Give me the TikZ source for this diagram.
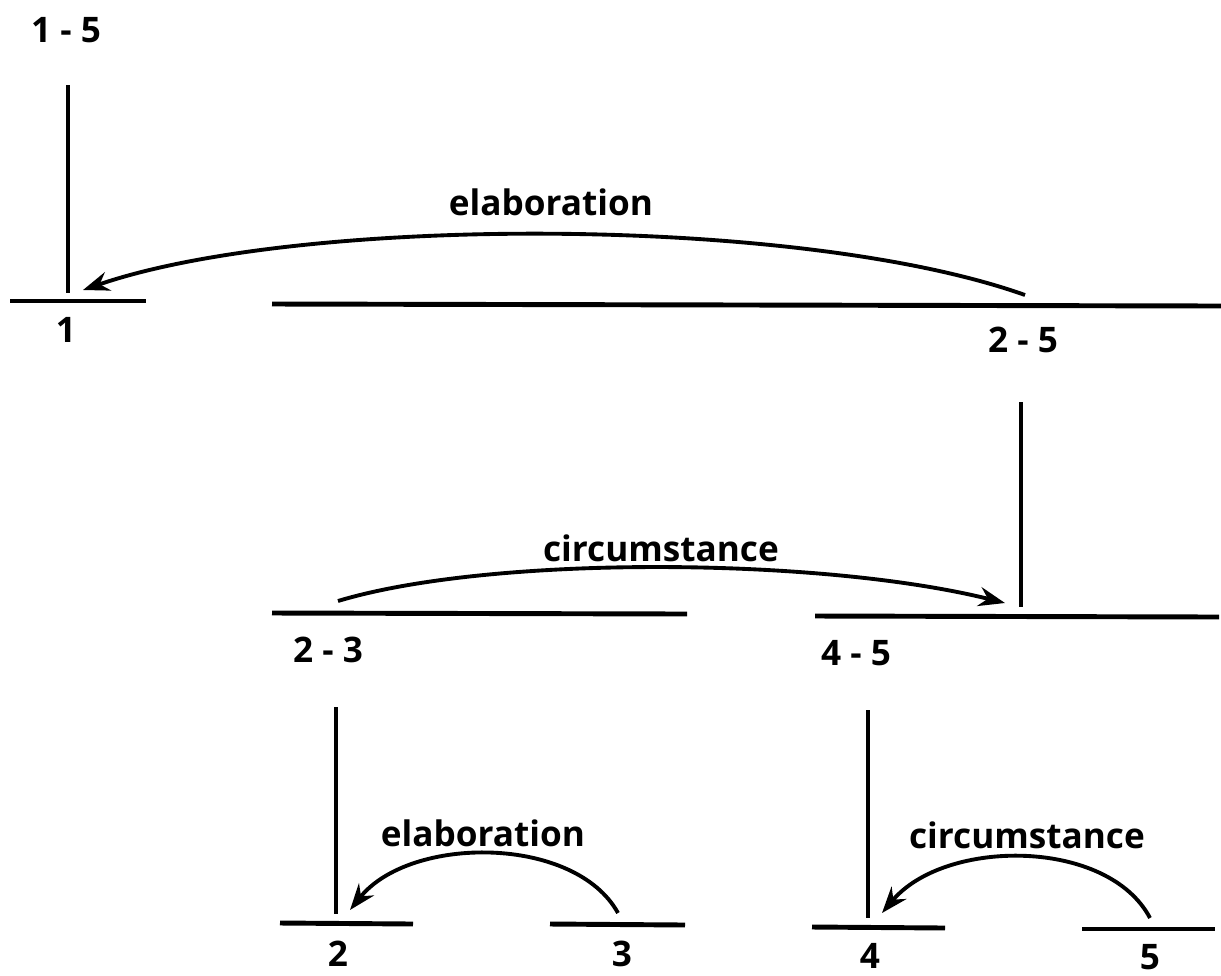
\documentclass[tikz,border=0pt]{standalone}
\usepackage{fontspec}
\setmainfont{Open Sans}
\usetikzlibrary{arrows.meta}

\tikzset{
  span/.style={line width=1.4pt},
  stem/.style={line width=1.3pt},
  rel/.style={-{Stealth[length=7.5pt, width=5.5pt, inset=2.5pt]}, line width=1.1pt},
  lbl/.style={font=\bfseries\fontsize{10}{12}\selectfont, inner sep=0pt},
}

\begin{document}
\begin{tikzpicture}[x=0.01cm, y=-0.01cm]
\useasboundingbox (0,0) rectangle (1221,975);

% level 1
\node[lbl] (n15) at (66,30) {1 - 5};
\coordinate (st15a) at (68,85);
\coordinate (st15b) at (68,293);
\draw[stem] (st15a) -- (st15b);

\coordinate (s1a) at (10,301);   \coordinate (s1b) at (146,301);
\coordinate (s25a) at (272,304); \coordinate (s25b) at (1221,306);
\draw[span] (s1a) -- (s1b);
\draw[span] (s25a) -- (s25b);
\node[lbl] (n1) at (66,330) {1};
\node[lbl] (n25) at (1023,340) {2 - 5};

\coordinate (e1from) at (1025,295);
\coordinate (e1to) at (83,290);
\draw[rel] (e1from) .. controls (800,215) and (300,215) .. (e1to);
\node[lbl] (r1) at (551,202) {elaboration};

% level 2
\coordinate (st25a) at (1021,402);
\coordinate (st25b) at (1021,607);
\draw[stem] (st25a) -- (st25b);

\coordinate (s23a) at (272,613); \coordinate (s23b) at (687,614);
\coordinate (s45a) at (815,616); \coordinate (s45b) at (1219,617);
\draw[span] (s23a) -- (s23b);
\draw[span] (s45a) -- (s45b);
\node[lbl] (n23) at (328,650) {2 - 3};
\node[lbl] (n45) at (856,653) {4 - 5};

\coordinate (c1from) at (338,601);
\coordinate (c1to) at (1005,603);
\draw[rel] (c1from) .. controls (490,555) and (820,557) .. (c1to);
\node[lbl] (r2) at (661,548) {circumstance};

% level 3
\coordinate (st23a) at (336,707);
\coordinate (st23b) at (336,914);
\draw[stem] (st23a) -- (st23b);
\coordinate (st45a) at (868,710);
\coordinate (st45b) at (868,918);
\draw[stem] (st45a) -- (st45b);

\coordinate (s2a) at (280,923);  \coordinate (s2b) at (413,924);
\coordinate (s3a) at (550,924);  \coordinate (s3b) at (685,925);
\coordinate (s4a) at (812,927);  \coordinate (s4b) at (945,928);
\coordinate (s5a) at (1082,929); \coordinate (s5b) at (1215,929);
\foreach \a/\b in {s2a/s2b, s3a/s3b, s4a/s4b, s5a/s5b}
  \draw[span] (\a) -- (\b);
\node[lbl] (n2) at (338,954) {2};
\node[lbl] (n3) at (622,954) {3};
\node[lbl] (n4) at (870,956) {4};
\node[lbl] (n5) at (1150,957) {5};

\coordinate (e2from) at (618,913);
\coordinate (e2to) at (350,910);
\draw[rel] (e2from) .. controls (575,835) and (410,835) .. (e2to);
\node[lbl] (r3) at (483,833) {elaboration};

\coordinate (c2from) at (1150,918);
\coordinate (c2to) at (882,913);
\draw[rel] (c2from) .. controls (1108,838) and (945,838) .. (c2to);
\node[lbl] (r4) at (1027,835) {circumstance};
\end{tikzpicture}
\end{document}
